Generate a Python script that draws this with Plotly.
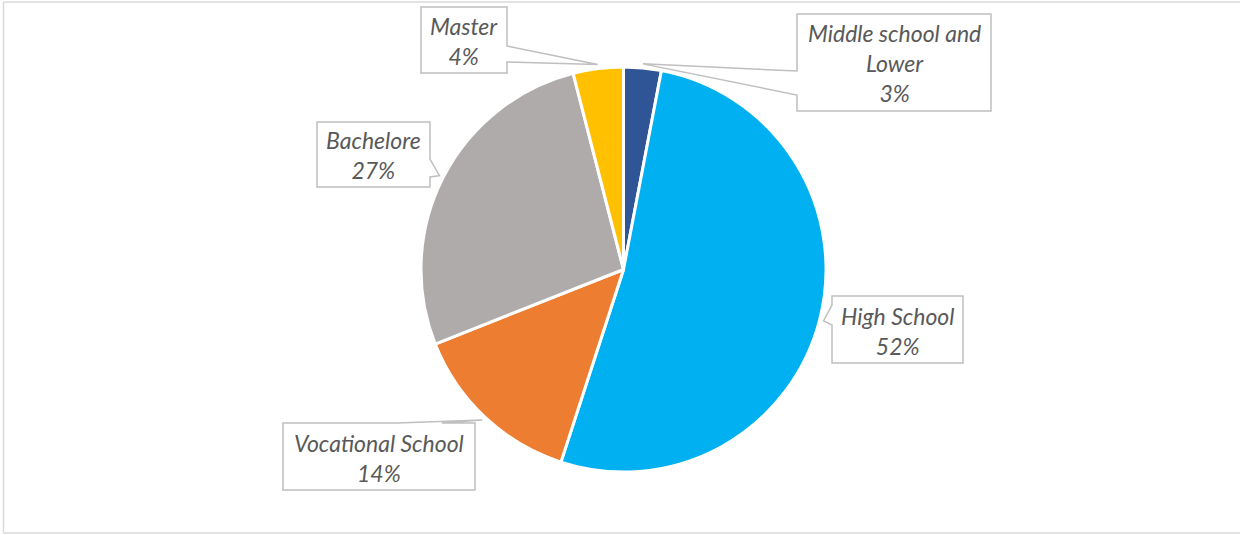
import math
import plotly.graph_objects as go

# ---- data ----
categories = ["Middle school and<br>Lower", "High School", "Vocational School", "Bachelore", "Master"]
values = [3, 52, 14, 27, 4]
colors = ["#2F5597", "#00B0F0", "#ED7D31", "#AFABAB", "#FFC000"]

W, H = 1240, 535

# callout layout (pixels): box x0,y0,x1,y1 ; side ; base span on that side
callouts = [
    dict(box=(797, 14, 991, 111), side="left", base=(71, 95)),
    dict(box=(832, 296, 963, 363), side="left", base=(305, 325)),
    dict(box=(283, 423, 475, 490), side="top", base=(397, 442)),
    dict(box=(317, 122, 430, 187), side="right", base=(159, 177)),
    dict(box=(421, 7, 507, 73), side="right", base=(46, 62)),
]

# pie domain in pixels
pie_x = (421, 826)
pie_y = (67, 472)


def px(x):
    return x / W


def py(y):
    return 1 - y / H


fig = go.Figure(go.Pie(
    labels=[c.replace("<br>", " ") for c in categories],
    values=values,
    sort=False,
    direction="clockwise",
    rotation=0,
    marker=dict(colors=colors, line=dict(color="white", width=3)),
    textinfo="none",
    hoverinfo="label+percent",
    showlegend=False,
    domain=dict(x=[px(pie_x[0]), px(pie_x[1])], y=[py(pie_y[1]), py(pie_y[0])]),
))

cx = (pie_x[0] + pie_x[1]) / 2
cy = (pie_y[0] + pie_y[1]) / 2
R = (pie_x[1] - pie_x[0]) / 2
total = sum(values)

shapes = []
annotations = []
cum = 0
for cat, v, co in zip(categories, values, callouts):
    mid = (cum + v / 2) / total
    cum += v
    th = 2 * math.pi * mid
    tx = cx + 1.02 * R * math.sin(th)
    ty = cy - 1.02 * R * math.cos(th)
    x0, y0, x1, y1 = co["box"]
    a, b = co["base"]
    if co["side"] == "right":
        pts = [(x0, y0), (x1, y0), (x1, a), (tx, ty), (x1, b), (x1, y1), (x0, y1)]
    elif co["side"] == "left":
        pts = [(x0, y0), (x1, y0), (x1, y1), (x0, y1), (x0, b), (tx, ty), (x0, a)]
    else:
        pts = [(x0, y0), (a, y0), (tx, ty), (b, y0), (x1, y0), (x1, y1), (x0, y1)]
    path = "M " + " L ".join(f"{px(x):.5f},{py(y):.5f}" for x, y in pts) + " Z"
    shapes.append(dict(type="path", xref="paper", yref="paper", path=path,
                       line=dict(color="#BFBFBF", width=1.5), fillcolor="white", layer="above"))
    annotations.append(dict(
        x=px((x0 + x1) / 2), y=py((y0 + y1) / 2 + 1), xref="paper", yref="paper",
        text=f"<i>{cat}<br>{v}%</i>", showarrow=False, align="center",
        xanchor="center", yanchor="middle",
        font=dict(family="Lato", size=23, color="#595959"),
    ))

# outer chart border (left, top, bottom)
for (xa, ya, xb, yb) in [(3.5, 2, 3.5, 533), (3.5, 2, 1245, 2), (3.5, 533, 1245, 533)]:
    shapes.append(dict(type="line", xref="paper", yref="paper",
                       x0=px(xa), y0=py(ya), x1=px(xb), y1=py(yb),
                       line=dict(color="#D9D9D9", width=1.5)))

fig.update_layout(
    width=W, height=H,
    margin=dict(l=0, r=0, t=0, b=0),
    paper_bgcolor="white", plot_bgcolor="white",
    shapes=shapes, annotations=annotations,
)

fig.write_html("out.html")
